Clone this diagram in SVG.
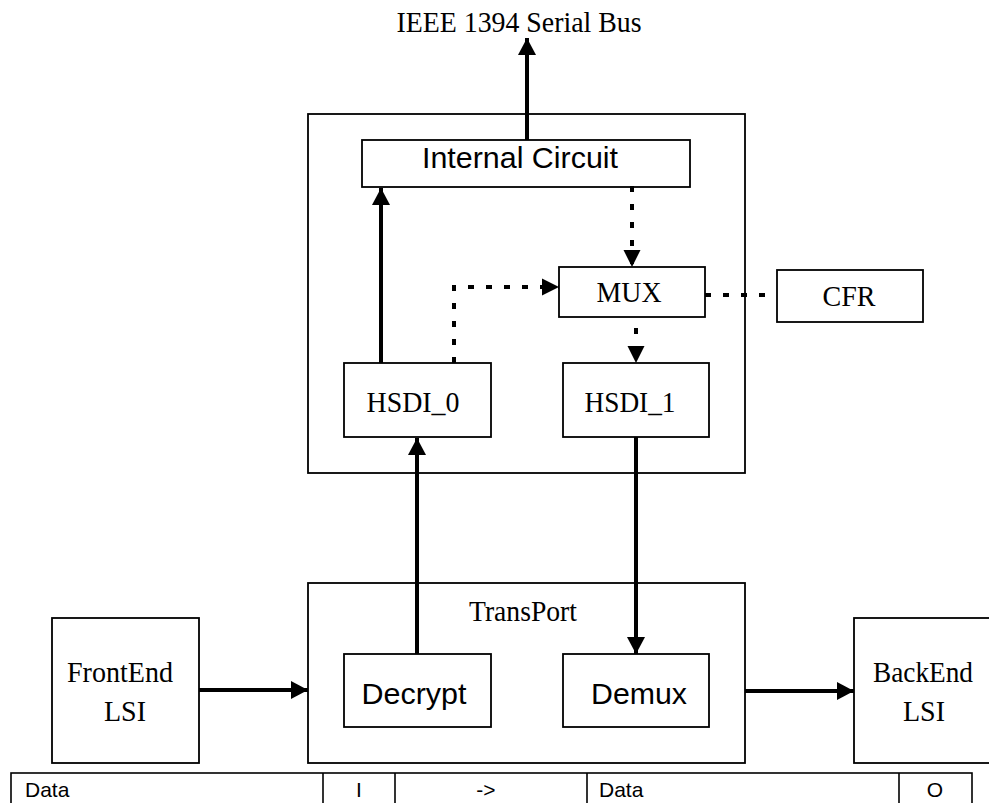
<svg xmlns="http://www.w3.org/2000/svg" width="989" height="803" viewBox="0 0 989 803">
<style>
  .box { fill: #ffffff; stroke: #000000; stroke-width: 1.8; }
  .frame { fill: none; stroke: #000000; stroke-width: 1.8; }
  .serif { font-family: "Liberation Serif", "Times New Roman", serif; font-size: 30px; fill: #000000; text-anchor: middle; }
  .sans { font-family: "Liberation Sans", Arial, sans-serif; font-size: 30px; fill: #000000; text-anchor: middle; }
  .cell { font-family: "Liberation Sans", Arial, sans-serif; font-size: 21px; fill: #000000; }
  .thick { fill: none; stroke: #000000; stroke-width: 4; }
  .dot { fill: none; stroke: #000000; stroke-width: 4; stroke-dasharray: 6 12; }
  .tbl { fill: none; stroke: #000000; stroke-width: 1.6; }
</style>
<defs>
  <marker id="head" markerUnits="userSpaceOnUse" markerWidth="18" markerHeight="18" refX="17" refY="9" orient="auto">
    <path d="M0,0 L17,9 L0,18 z" fill="#000000"/>
  </marker>
  <marker id="dhead" markerUnits="userSpaceOnUse" markerWidth="18" markerHeight="18" refX="17" refY="9" orient="auto">
    <path d="M0,0.5 L17,9 L0,17.5 z" fill="#000000"/>
  </marker>
</defs>

<g id="title">
  <text class="serif" x="519" y="32" textLength="245" lengthAdjust="spacingAndGlyphs">IEEE 1394 Serial Bus</text>
</g>

<g id="chip">
  <rect class="frame" x="308" y="114" width="437" height="359"/>
</g>

<g id="internal-circuit">
  <rect class="box" x="362" y="140" width="328" height="47"/>
  <text class="sans" x="520" y="168" textLength="196" lengthAdjust="spacingAndGlyphs">Internal Circuit</text>
</g>

<g id="mux">
  <rect class="box" x="559" y="267" width="146" height="50"/>
  <text class="serif" x="629" y="302" textLength="65" lengthAdjust="spacingAndGlyphs">MUX</text>
</g>

<g id="cfr">
  <rect class="box" x="777" y="270" width="146" height="52"/>
  <text class="serif" x="849" y="306" textLength="53" lengthAdjust="spacingAndGlyphs">CFR</text>
</g>

<g id="hsdi0">
  <rect class="box" x="344" y="363" width="147" height="74"/>
  <text class="serif" x="413" y="412" textLength="93" lengthAdjust="spacingAndGlyphs">HSDI_0</text>
</g>

<g id="hsdi1">
  <rect class="box" x="563" y="363" width="146" height="74"/>
  <text class="serif" x="630" y="412" textLength="91" lengthAdjust="spacingAndGlyphs">HSDI_1</text>
</g>

<g id="transport">
  <rect class="frame" x="308" y="583" width="437" height="180"/>
  <text class="serif" x="523" y="621" textLength="108" lengthAdjust="spacingAndGlyphs">TransPort</text>
</g>

<g id="decrypt">
  <rect class="box" x="344" y="654" width="147" height="73"/>
  <text class="sans" x="414" y="704" textLength="105" lengthAdjust="spacingAndGlyphs">Decrypt</text>
</g>

<g id="demux">
  <rect class="box" x="563" y="654" width="146" height="73"/>
  <text class="sans" x="639" y="704" textLength="96" lengthAdjust="spacingAndGlyphs">Demux</text>
</g>

<g id="frontend">
  <rect class="box" x="52" y="618" width="147" height="145"/>
  <text class="serif" x="120" y="682" textLength="106" lengthAdjust="spacingAndGlyphs">FrontEnd</text>
  <text class="serif" x="125" y="721" textLength="42" lengthAdjust="spacingAndGlyphs">LSI</text>
</g>

<g id="backend">
  <rect class="box" x="854" y="618" width="160" height="145"/>
  <text class="serif" x="923" y="682" textLength="100" lengthAdjust="spacingAndGlyphs">BackEnd</text>
  <text class="serif" x="924" y="721" textLength="42" lengthAdjust="spacingAndGlyphs">LSI</text>
</g>

<g id="connectors">
  <line class="thick" x1="527" y1="140" x2="527" y2="38" marker-end="url(#head)"/>
  <line class="thick" x1="381" y1="363" x2="381" y2="188" marker-end="url(#head)"/>
  <line class="thick" x1="417" y1="654" x2="417" y2="438" marker-end="url(#head)"/>
  <line class="thick" x1="636" y1="437" x2="636" y2="654" marker-end="url(#head)"/>
  <line class="thick" x1="199" y1="690" x2="308" y2="690" marker-end="url(#head)"/>
  <line class="thick" x1="745" y1="691" x2="854" y2="691" marker-end="url(#head)"/>
  <line class="dot" x1="632" y1="186" x2="632" y2="267" marker-end="url(#dhead)"/>
  <path class="dot" d="M454,363 V287 H559" marker-end="url(#dhead)"/>
  <line class="dot" x1="636" y1="328" x2="636" y2="363" marker-end="url(#dhead)"/>
  <line class="dot" x1="705" y1="295" x2="770" y2="295"/>
</g>

<g id="table">
  <rect class="tbl" x="11" y="773" width="961" height="40"/>
  <line class="tbl" x1="323" y1="773" x2="323" y2="803"/>
  <line class="tbl" x1="395" y1="773" x2="395" y2="803"/>
  <line class="tbl" x1="587" y1="773" x2="587" y2="803"/>
  <line class="tbl" x1="899" y1="773" x2="899" y2="803"/>
  <text class="cell" x="25" y="797">Data</text>
  <text class="cell" x="359" y="797" text-anchor="middle">I</text>
  <text class="cell" x="486" y="797" text-anchor="middle">-&gt;</text>
  <text class="cell" x="599" y="797">Data</text>
  <text class="cell" x="935" y="797" text-anchor="middle">O</text>
</g>
</svg>
